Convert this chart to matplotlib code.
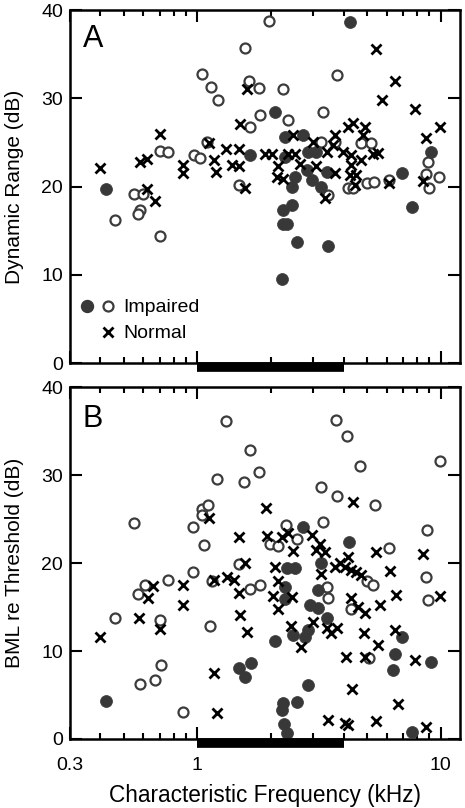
import numpy as np
import matplotlib
matplotlib.use("Agg")
import matplotlib.pyplot as plt
from matplotlib.ticker import FixedLocator, NullFormatter

plt.rcParams['font.family'] = ['Liberation Sans', 'DejaVu Sans']

# ---- Panel A: dynamic range (dB) vs CF (kHz) ----
a_imp_filled_cf = [0.42, 1.65, 4.24, 2.09, 2.29, 2.73, 2.29, 2.86, 3.09, 2.82, 2.52, 2.44, 2.95,
                   3.24, 3.40, 2.44, 2.26, 2.26, 2.33, 2.56, 3.44, 2.22, 7.62, 9.16, 6.96]
a_imp_filled_dr = [19.7, 23.6, 38.6, 28.4, 25.6, 25.8, 23.3, 23.9, 23.9, 21.9, 21.1, 20.0, 20.7,
                   20.0, 21.7, 17.9, 17.3, 15.8, 15.7, 13.7, 13.3, 9.5, 17.7, 23.9, 21.5]

a_imp_open_cf = [0.46, 0.55, 0.60, 0.58, 0.57, 0.70, 0.70, 0.76, 0.97, 1.03, 1.045, 1.14, 1.22,
                 1.10, 1.48, 1.65, 1.63, 1.80, 1.57, 1.81, 1.97, 2.26, 2.36, 3.29, 3.75, 3.24,
                 3.68, 4.72, 5.20, 5.00, 5.30, 4.17, 4.37, 3.45, 6.14, 8.87, 8.74, 9.84, 8.93]
a_imp_open_dr = [16.2, 19.1, 19.1, 17.3, 16.9, 14.4, 24.0, 23.9, 23.6, 23.2, 32.7, 31.3, 29.8,
                 25.1, 20.2, 26.7, 32.0, 31.2, 35.7, 28.1, 38.7, 31.0, 27.5, 28.4, 32.6, 25.1,
                 25.1, 24.9, 24.9, 20.4, 20.5, 19.8, 19.8, 19.0, 20.7, 22.8, 21.4, 21.1, 19.8]

a_norm_cf = [0.40, 0.62, 0.58, 0.62, 0.67, 0.70, 0.87, 0.87, 1.12, 1.17, 1.19, 1.31, 1.39, 1.48,
             1.49, 1.50, 1.60, 1.57, 1.90, 2.02, 2.15, 2.12, 2.26, 2.37, 2.48, 2.52, 2.64, 2.99,
             3.09, 3.40, 3.68, 3.61, 3.68, 3.34, 3.97, 4.17, 4.37, 4.88, 4.80, 4.30, 4.30, 4.72,
             4.24, 4.51, 4.43, 5.28, 5.54, 5.45, 6.52, 5.77, 7.82, 9.90, 8.74, 8.47, 6.14]
a_norm_dr = [22.1, 19.7, 22.8, 23.1, 18.4, 25.9, 22.4, 21.5, 24.9, 23.0, 21.7, 24.2, 22.4, 22.3,
             24.3, 27.1, 31.0, 19.8, 23.7, 23.7, 22.3, 21.1, 20.9, 23.7, 25.8, 23.7, 22.6, 25.1,
             22.3, 23.9, 25.8, 24.7, 21.5, 18.7, 23.9, 26.8, 27.2, 26.8, 25.8, 23.6, 22.4, 23.0,
             21.3, 21.3, 20.2, 23.7, 23.8, 35.6, 32.0, 29.8, 28.8, 26.7, 25.5, 20.6, 20.4]

# ---- Panel B: BML re threshold (dB) vs CF (kHz) ----
b_imp_filled_cf = [0.42, 1.48, 1.57, 1.66, 2.09, 2.30, 2.29, 2.33, 2.52, 2.73, 3.24, 4.20, 3.14,
                   2.90, 3.14, 3.40, 2.48, 2.86, 2.77, 2.86, 2.26, 2.22, 2.56, 2.28, 2.33, 6.96,
                   6.48, 6.35, 9.16, 7.65]
b_imp_filled_bml = [4.35, 8.1, 7.1, 8.6, 11.1, 17.3, 15.9, 19.4, 19.4, 24.1, 20.0, 22.4, 16.9,
                    15.2, 14.9, 13.7, 11.8, 12.4, 11.6, 6.1, 4.05, 3.3, 4.2, 1.7, 0.65, 11.6,
                    9.7, 7.8, 8.7, 0.8]

b_imp_open_cf = [0.55, 0.46, 0.57, 0.61, 0.70, 0.71, 0.67, 0.58, 0.87, 0.76, 0.96, 0.96, 1.045,
                 1.045, 1.11, 1.07, 1.13, 1.15, 1.21, 1.31, 1.48, 1.56, 1.64, 1.80, 1.65, 1.81,
                 1.99, 2.14, 2.31, 2.56, 3.29, 3.21, 3.76, 3.71, 4.13, 4.66, 5.37, 6.13, 3.40,
                 3.45, 4.97, 5.28, 4.30, 5.10, 8.80, 8.70, 8.87, 9.90]
b_imp_open_bml = [24.6, 13.8, 16.5, 17.5, 13.5, 8.4, 6.7, 6.3, 3.1, 18.1, 19.0, 24.1, 26.1,
                  25.5, 26.6, 22.0, 12.8, 18.0, 29.5, 36.1, 19.9, 29.2, 32.9, 30.4, 17.0, 17.5,
                  22.2, 21.9, 24.3, 22.7, 24.7, 28.6, 27.6, 36.3, 34.4, 31.0, 26.6, 21.7, 17.3,
                  16.0, 17.9, 17.5, 14.8, 9.2, 23.8, 18.4, 15.8, 31.6]

b_norm_cf = [0.40, 0.575, 0.70, 0.63, 0.66, 0.87, 0.87, 1.12, 1.17, 1.32, 1.41, 1.49, 1.57, 1.48,
             1.50, 1.60, 1.17, 1.20, 1.92, 1.93, 2.22, 2.37, 2.95, 3.19, 2.48, 3.09, 3.34, 4.17,
             5.45, 4.35, 2.09, 3.24, 3.68, 3.85, 4.04, 4.30, 4.51, 4.72, 2.15, 2.05, 2.44, 4.30,
             4.58, 4.88, 5.66, 6.53, 2.15, 2.99, 2.43, 2.68, 3.40, 3.56, 3.74, 4.85, 5.54, 6.48,
             4.07, 4.88, 7.82, 4.33, 6.67, 3.43, 4.04, 4.17, 5.45, 8.74, 8.47, 6.17, 9.90]
b_norm_bml = [11.6, 13.7, 12.5, 16.0, 17.4, 17.5, 15.2, 25.1, 18.1, 18.4, 18.1, 22.9, 20.0, 16.6,
              14.1, 12.2, 7.5, 2.9, 26.3, 23.1, 23.0, 23.4, 23.2, 22.2, 21.4, 21.5, 21.3, 20.7,
              21.3, 26.9, 19.5, 18.8, 19.6, 20.0, 19.6, 19.2, 19.0, 18.6, 17.9, 16.3, 16.1, 16.0,
              15.0, 14.3, 15.2, 16.4, 14.8, 13.3, 12.8, 10.5, 12.6, 12.0, 12.6, 12.1, 10.7, 12.4,
              9.35, 9.35, 9.0, 5.7, 4.0, 2.2, 1.8, 1.6, 2.05, 1.4, 21.0, 19.1, 16.3]

x_ticks = [0.3, 1, 10]
x_tick_labels = ['0.3', '1', '10']
x_minor = [0.4, 0.5, 0.6, 0.7, 0.8, 0.9, 2, 3, 4, 5, 6, 7, 8, 9]
y_ticks = [0, 10, 20, 30, 40]
bar_range = [1, 4]

FILL = '#383838'
OPEN = '#3c3c3c'

fig = plt.figure(figsize=(4.65, 8.08), dpi=100)
axA = fig.add_axes([0.1505, 0.5507, 0.8385, 0.4369])
axB = fig.add_axes([0.1505, 0.0854, 0.8385, 0.4356])


def draw(ax, fcf, fv, ocf, ov, ncf, nv):
    ax.plot(ocf, ov, 'o', ms=7.2, mfc='white', mec=OPEN, mew=1.6, ls='none', zorder=2)
    ax.plot(fcf, fv, 'o', ms=8.6, mfc=FILL, mec=FILL, mew=0.5, ls='none', zorder=3)
    ax.plot(ncf, nv, 'x', ms=7.0, mec='black', mew=2.0, ls='none', zorder=4)
    ax.set_xscale('log')
    ax.set_xlim(0.3, 12)
    ax.set_ylim(0, 40)
    ax.xaxis.set_major_locator(FixedLocator(x_ticks))
    ax.xaxis.set_minor_locator(FixedLocator(x_minor))
    ax.xaxis.set_minor_formatter(NullFormatter())
    ax.set_yticks(y_ticks)
    ax.tick_params(which='both', direction='in', top=True, right=True, width=1.5,
                   labelsize=14, pad=5)
    ax.tick_params(axis='x', which='major', pad=13)
    ax.tick_params(which='major', length=8.5)
    ax.tick_params(which='minor', length=4)
    for s in ax.spines.values():
        s.set_linewidth(1.8)
    # black bar under the axis marking 1-4 kHz
    ax.plot(bar_range, [-0.012, -0.012], transform=ax.get_xaxis_transform(), color='black',
            lw=7.0, solid_capstyle='butt', clip_on=False, zorder=5)


draw(axA, a_imp_filled_cf, a_imp_filled_dr, a_imp_open_cf, a_imp_open_dr, a_norm_cf, a_norm_dr)
draw(axB, b_imp_filled_cf, b_imp_filled_bml, b_imp_open_cf, b_imp_open_bml, b_norm_cf, b_norm_bml)

axA.set_xticklabels([])
axB.set_xticklabels(x_tick_labels)

axA.set_ylabel('Dynamic Range (dB)', fontsize=15, labelpad=12)
axB.set_ylabel('BML re Threshold (dB)', fontsize=15, labelpad=12)
axB.set_xlabel('Characteristic Frequency (kHz)', fontsize=16.3, labelpad=7)

axA.text(0.033, 0.895, 'A', transform=axA.transAxes, fontsize=22, va='baseline')
axB.text(0.033, 0.886, 'B', transform=axB.transAxes, fontsize=22, va='baseline')

# legend drawn by hand in panel A
axA.plot([0.043], [0.161], 'o', ms=8.6, mfc=FILL, mec=FILL, transform=axA.transAxes,
         clip_on=False)
axA.plot([0.098], [0.161], 'o', ms=7.2, mfc='white', mec=OPEN, mew=1.6,
         transform=axA.transAxes, clip_on=False)
axA.plot([0.098], [0.089], 'x', ms=7.0, mec='black', mew=2.0, transform=axA.transAxes,
         clip_on=False)
axA.text(0.137, 0.1445, 'Impaired', transform=axA.transAxes, fontsize=14, va='baseline')
axA.text(0.137, 0.071, 'Normal', transform=axA.transAxes, fontsize=14, va='baseline')

fig.savefig('out.png', dpi=100)
